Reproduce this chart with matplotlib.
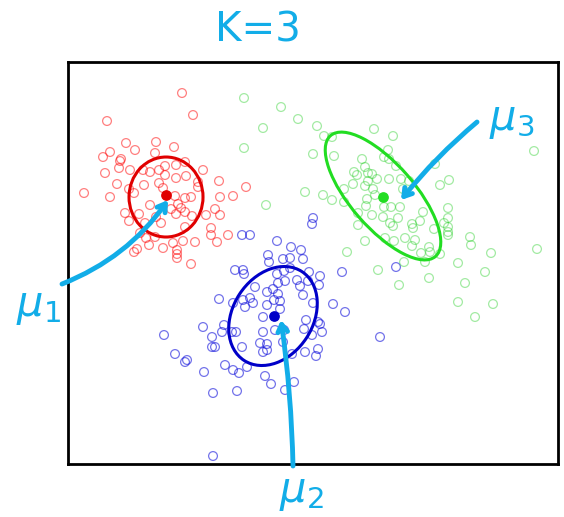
import matplotlib
matplotlib.use('Agg')
import matplotlib.pyplot as plt
from matplotlib.patches import Ellipse

# cluster points (plot units, y grows downward)
red_x = [182, 193, 107, 126, 156, 174, 135, 110, 155, 103, 121, 120, 119, 130, 105, 143,
         150, 159, 165, 176, 185, 203, 176, 186, 165, 144, 159, 117, 129, 134, 163, 198,
         198, 219, 246, 84, 110, 175, 185, 191, 178, 181, 220, 233, 150, 171, 185, 125,
         139, 156, 176, 192, 206, 215, 220, 129, 145, 161, 185, 211, 228, 211, 140, 149,
         146, 183, 195, 217, 137, 134, 163, 177, 177, 155, 177, 191, 173]
red_y = [93, 115, 121, 143, 142, 147, 150, 152, 153, 157, 159, 161, 168, 170, 173, 170,
         172, 170, 166, 165, 162, 170, 178, 176, 175, 185, 183, 184, 189, 193, 188, 182,
         187, 181, 187, 193, 197, 196, 198, 197, 204, 208, 197, 196, 205, 209, 212, 213,
         214, 217, 214, 216, 215, 209, 215, 221, 223, 223, 227, 228, 235, 235, 233, 245,
         238, 241, 242, 242, 249, 252, 248, 250, 254, 237, 258, 264, 243]

green_x = [244, 281, 298, 263, 317, 374, 393, 324, 332, 244, 313, 334, 388, 384, 389, 362,
           396, 365, 435, 534, 354, 357, 368, 372, 368, 377, 389, 401, 409, 440, 449, 353,
           365, 344, 373, 403, 305, 323, 332, 344, 367, 375, 384, 391, 400, 266, 366, 358,
           372, 383, 398, 412, 420, 423, 390, 393, 358, 413, 434, 444, 448, 448, 448, 448,
           448, 385, 394, 405, 415, 365, 470, 471, 347, 412, 421, 429, 440, 430, 491, 537,
           404, 425, 458, 485, 378, 429, 399, 465, 458, 493, 475]
green_y = [98, 107, 119, 128, 126, 129, 136, 136, 137, 148, 154, 156, 150, 157, 159, 159,
           166, 167, 164, 151, 172, 175, 173, 174, 181, 179, 179, 179, 181, 185, 180, 184,
           186, 189, 189, 189, 192, 195, 200, 202, 199, 195, 207, 207, 207, 205, 206, 213,
           215, 217, 218, 224, 221, 212, 223, 226, 225, 228, 229, 223, 208, 218, 227, 232,
           235, 238, 241, 238, 240, 241, 237, 245, 252, 246, 253, 247, 254, 252, 253, 249,
           262, 262, 263, 272, 270, 278, 285, 283, 302, 304, 317]

blue_x = [242, 250, 277, 291, 301, 268, 269, 283, 290, 303, 290, 235, 243, 244, 277, 284,
          278, 285, 297, 300, 308, 309, 320, 319, 342, 255, 267, 273, 278, 303, 219, 233,
          243, 250, 253, 245, 267, 280, 280, 274, 313, 333, 345, 263, 306, 318, 320, 203,
          224, 222, 232, 236, 263, 275, 284, 304, 312, 322, 164, 212, 212, 215, 242, 260,
          267, 283, 263, 267, 175, 185, 187, 292, 305, 316, 318, 225, 233, 239, 247, 204,
          265, 271, 294, 285, 237, 213, 213, 313, 312, 396, 380]
blue_y = [235, 235, 241, 247, 250, 255, 262, 259, 258, 259, 268, 270, 270, 274, 274, 271,
          283, 281, 280, 286, 281, 272, 276, 285, 272, 287, 292, 289, 294, 295, 299, 303,
          300, 298, 303, 307, 305, 301, 309, 300, 303, 304, 312, 317, 320, 322, 324, 327,
          325, 332, 332, 332, 332, 330, 330, 329, 335, 332, 335, 337, 347, 347, 347, 343,
          344, 342, 352, 350, 354, 362, 360, 354, 352, 356, 349, 365, 370, 373, 367, 372,
          376, 384, 382, 390, 391, 393, 456, 218, 224, 267, 337]

# cluster means and covariance ellipses: (cx, cy, width, height, angle)
means = [(166, 195), (274, 316), (383, 197)]
ellipses = [(166, 197, 74, 80, 0), (273, 316, 106, 80, -57), (383, 196, 160, 64, 49)]

pt_colors = [(1, 0, 0, 0.5), (0, 0, 0.85, 0.55), (0.1, 0.8, 0.1, 0.4)]
line_colors = ['#e00000', '#0000c8', '#22dd22']
pen = '#12ade8'

fig = plt.figure(figsize=(5.64, 5.17), dpi=100)
ax = fig.add_axes([0.1197, 0.1025, 0.8688, 0.7785])

for (xs, ys), c in zip([(red_x, red_y), (blue_x, blue_y), (green_x, green_y)], pt_colors):
    ax.scatter(xs, ys, s=40, facecolors='none', edgecolors=[c], linewidths=0.9)

for (cx, cy, w, h, a), c in zip(ellipses, line_colors):
    ax.add_patch(Ellipse((cx, cy), w, h, angle=a, fill=False, edgecolor=c, lw=2.2))

for (mx, my), c in zip(means, line_colors):
    ax.scatter(mx, my, s=45, color=c, zorder=3)

ax.set_xlim(67.5, 557.5)
ax.set_ylim(464, 61.5)
ax.set_xticks([])
ax.set_yticks([])
for sp in ax.spines.values():
    sp.set_linewidth(2)

# hand-written notes
ax.text(258, 30, 'K=3', fontsize=29, color=pen, ha='center', va='center', clip_on=False)
ax.text(38, 306, r'$\mu_1$', fontsize=30, color=pen, ha='center', va='center', clip_on=False)
ax.text(301, 492, r'$\mu_2$', fontsize=30, color=pen, ha='center', va='center', clip_on=False)
ax.text(512, 120, r'$\mu_3$', fontsize=30, color=pen, ha='center', va='center', clip_on=False)

arrows = [((62, 284), (168, 200), 0.15), ((293, 466), (281, 320), 0.03), ((477, 122), (401, 200), 0.05)]
for start, end, rad in arrows:
    ax.annotate('', xy=end, xytext=start, annotation_clip=False,
                arrowprops=dict(arrowstyle='->,head_length=0.55,head_width=0.35', lw=3.5, color=pen,
                                connectionstyle='arc3,rad=%s' % rad, shrinkA=0, shrinkB=0))

fig.savefig('out.png', dpi=100)
